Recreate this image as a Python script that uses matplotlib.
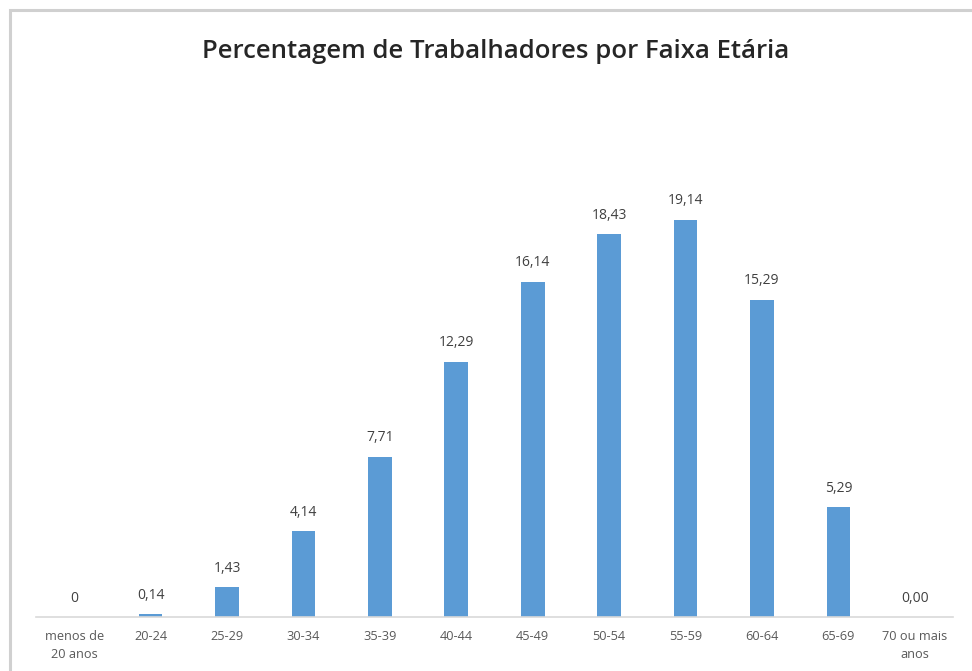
import matplotlib
matplotlib.use("Agg")
import matplotlib.pyplot as plt
from matplotlib.patches import Rectangle

categories = ["menos de\n20 anos", "20-24", "25-29", "30-34", "35-39", "40-44",
              "45-49", "50-54", "55-59", "60-64", "65-69", "70 ou mais\nanos"]
values = [0, 0.14, 1.43, 4.14, 7.71, 12.29, 16.14, 18.43, 19.14, 15.29, 5.29, 0.00]
value_labels = ["0", "0,14", "1,43", "4,14", "7,71", "12,29", "16,14", "18,43",
                "19,14", "15,29", "5,29", "0,00"]
title = "Percentagem de Trabalhadores por Faixa Etária"

plt.rcParams['font.family'] = ['Open Sans', 'DejaVu Sans']

W, H = 972, 671
fig = plt.figure(figsize=(W / 100, H / 100), dpi=100)
fig.patch.set_facecolor("white")

# chart border
fig.add_artist(Rectangle((10 / W, -0.05), 1.1, (H - 10) / H + 0.05, transform=fig.transFigure,
                         fill=False, edgecolor="#d0d0d0", linewidth=2.2))

left, right = 36 / W, 953 / W
bottom, top = (H - 617) / H, (H - 98) / H
ax = fig.add_axes([left, bottom, right - left, top - bottom])

x = list(range(len(categories)))
ax.bar(x, values, width=0.31, color="#5B9BD5", zorder=2)
ax.set_xlim(-0.5, len(categories) - 0.5)
ax.set_ylim(0, 25)

for xi, v, lab in zip(x, values, value_labels):
    ax.annotate(lab, (xi, v), xytext=(0, 19), textcoords="offset pixels",
                ha="center", va="center", fontsize=10, color="#404040")

ax.set_xticks(x)
ax.set_xticklabels(categories, fontsize=9.2, color="#595959", linespacing=1.6)
ax.tick_params(axis="x", length=0, pad=9)
ax.set_yticks([])
for s in ["top", "right", "left"]:
    ax.spines[s].set_visible(False)
ax.spines["bottom"].set_color("#d9d9d9")
ax.spines["bottom"].set_linewidth(1.2)

fig.text(496 / W, 1 - 51 / H, title, ha="center", va="center", fontsize=18.5,
         fontweight="semibold", color="#262626")

fig.savefig("out.png", dpi=100, facecolor="white")
